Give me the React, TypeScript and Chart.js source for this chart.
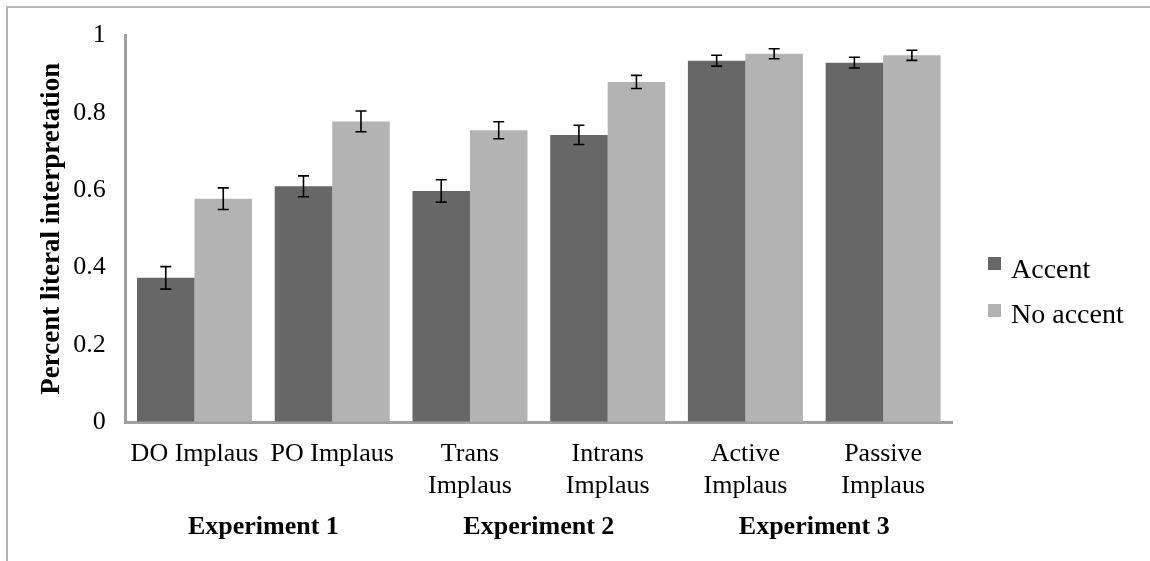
import React, { useEffect, useRef } from 'react';
import { Chart, registerables } from 'chart.js';

Chart.register(...registerables);

const categories: (string | string[])[] = [
  'DO Implaus',
  'PO Implaus',
  ['Trans', 'Implaus'],
  ['Intrans', 'Implaus'],
  ['Active', 'Implaus'],
  ['Passive', 'Implaus'],
];
const seriesLabels = ['Accent', 'No accent'];
const accentValues = [0.373, 0.61, 0.598, 0.743, 0.935, 0.93];
const accentErrors = [0.029, 0.027, 0.029, 0.025, 0.014, 0.014];
const noAccentValues = [0.578, 0.778, 0.755, 0.88, 0.953, 0.949];
const noAccentErrors = [0.028, 0.027, 0.022, 0.017, 0.013, 0.013];
const experimentLabels = ['Experiment 1', 'Experiment 2', 'Experiment 3'];
const experimentFirstCategory = [0, 2, 4];
const experimentLastCategory = [1, 3, 5];
const yTickValues = [0, 0.2, 0.4, 0.6, 0.8, 1];
const yTickLabels = ['0', '0.2', '0.4', '0.6', '0.8', '1'];
const yTitle = 'Percent literal interpretation';

const seriesColors = ['#676767', '#b3b3b3'];
const FONT = "'Liberation Serif', 'Times New Roman', Times, serif";

const overlayPlugin = {
  id: 'overlay',
  afterDatasetsDraw(chart: any) {
    const ctx = chart.ctx;
    const yScale = chart.scales.y;
    const errs = [accentErrors, noAccentErrors];
    ctx.save();
    ctx.strokeStyle = '#000';
    ctx.lineWidth = 1.6;
    chart.data.datasets.forEach((ds: any, i: number) => {
      const meta = chart.getDatasetMeta(i);
      meta.data.forEach((bar: any, j: number) => {
        const v = ds.data[j];
        const e = errs[i][j];
        const yt = yScale.getPixelForValue(v + e);
        const yb = yScale.getPixelForValue(v - e);
        const x = bar.x;
        const cap = 5.5;
        ctx.beginPath();
        ctx.moveTo(x, yt);
        ctx.lineTo(x, yb);
        ctx.moveTo(x - cap, yt);
        ctx.lineTo(x + cap, yt);
        ctx.moveTo(x - cap, yb);
        ctx.lineTo(x + cap, yb);
        ctx.stroke();
      });
    });
    ctx.restore();
  },
  afterDraw(chart: any) {
    const ctx = chart.ctx;
    const xScale = chart.scales.x;
    const area = chart.chartArea;
    ctx.save();
    ctx.fillStyle = '#000';
    ctx.font = `bold 26px ${FONT}`;
    ctx.textAlign = 'center';
    ctx.textBaseline = 'alphabetic';
    experimentLabels.forEach((lab, k) => {
      const x =
        (xScale.getPixelForValue(experimentFirstCategory[k]) +
          xScale.getPixelForValue(experimentLastCategory[k])) /
        2;
      ctx.fillText(lab, x, area.bottom + 111.5);
    });
    ctx.font = `28px ${FONT}`;
    ctx.textAlign = 'left';
    const legendTops = [257, 304];
    const legendBaselines = [278, 323];
    chart.data.datasets.forEach((ds: any, i: number) => {
      ctx.fillStyle = ds.backgroundColor;
      ctx.fillRect(988, legendTops[i], 13, 13);
      ctx.fillStyle = '#000';
      ctx.fillText(ds.label, 1011, legendBaselines[i]);
    });
    ctx.restore();
  },
};

export default function App() {
  const canvasRef = useRef<HTMLCanvasElement | null>(null);

  useEffect(() => {
    document.body.style.margin = '0';
    const canvas = canvasRef.current;
    if (!canvas) return;
    const chart = new Chart(canvas, {
      type: 'bar',
      data: {
        labels: categories as any,
        datasets: [
          {
            label: seriesLabels[0],
            data: accentValues,
            backgroundColor: seriesColors[0],
            borderWidth: 0,
            categoryPercentage: 0.835,
            barPercentage: 1,
          },
          {
            label: seriesLabels[1],
            data: noAccentValues,
            backgroundColor: seriesColors[1],
            borderWidth: 0,
            categoryPercentage: 0.835,
            barPercentage: 1,
          },
        ],
      },
      options: {
        responsive: false,
        maintainAspectRatio: false,
        animation: false,
        devicePixelRatio: 1,
        layout: { padding: { left: 0, right: 198, top: 35, bottom: 0 } },
        plugins: {
          legend: { display: false },
          tooltip: { enabled: false },
        },
        scales: {
          x: {
            grid: { drawOnChartArea: false, drawTicks: false, tickLength: 0 },
            border: { display: true, color: '#a0a0a0', width: 3 },
            ticks: {
              color: '#000',
              font: { family: FONT, size: 26, lineHeight: 1.2 },
              padding: 17,
              maxRotation: 0,
              minRotation: 0,
              autoSkip: false,
            },
            afterFit: (s: any) => {
              s.height = 139;
            },
          },
          y: {
            min: 0,
            max: 1,
            grid: { drawOnChartArea: false, drawTicks: false, tickLength: 0 },
            border: { display: true, color: '#a0a0a0', width: 3 },
            ticks: {
              stepSize: 0.2,
              color: '#000',
              font: { family: FONT, size: 26, lineHeight: 1.2 },
              padding: 20,
              callback: (v: any) => {
                const idx = yTickValues.findIndex((t) => Math.abs(t - Number(v)) < 1e-9);
                return idx >= 0 ? yTickLabels[idx] : '';
              },
            },
            title: {
              display: true,
              text: yTitle,
              color: '#000',
              font: { family: FONT, size: 27, weight: 'bold', lineHeight: 1.2 },
              padding: { top: 36, bottom: 0 },
            },
            afterFit: (s: any) => {
              s.width = 125.65;
            },
          },
        },
      } as any,
      plugins: [overlayPlugin],
    });
    return () => chart.destroy();
  }, []);

  return (
    <div style={{ position: 'relative', width: 1150, height: 561, background: '#fff', overflow: 'hidden' }}>
      <div
        style={{
          position: 'absolute',
          left: 6,
          top: 6,
          right: 0,
          bottom: 0,
          borderTop: '2px solid #b4b4b4',
          borderLeft: '2px solid #b4b4b4',
        }}
      />
      <canvas
        ref={canvasRef}
        width={1150}
        height={561}
        style={{ position: 'absolute', left: 0, top: 0, width: 1150, height: 561 }}
      />
    </div>
  );
}
